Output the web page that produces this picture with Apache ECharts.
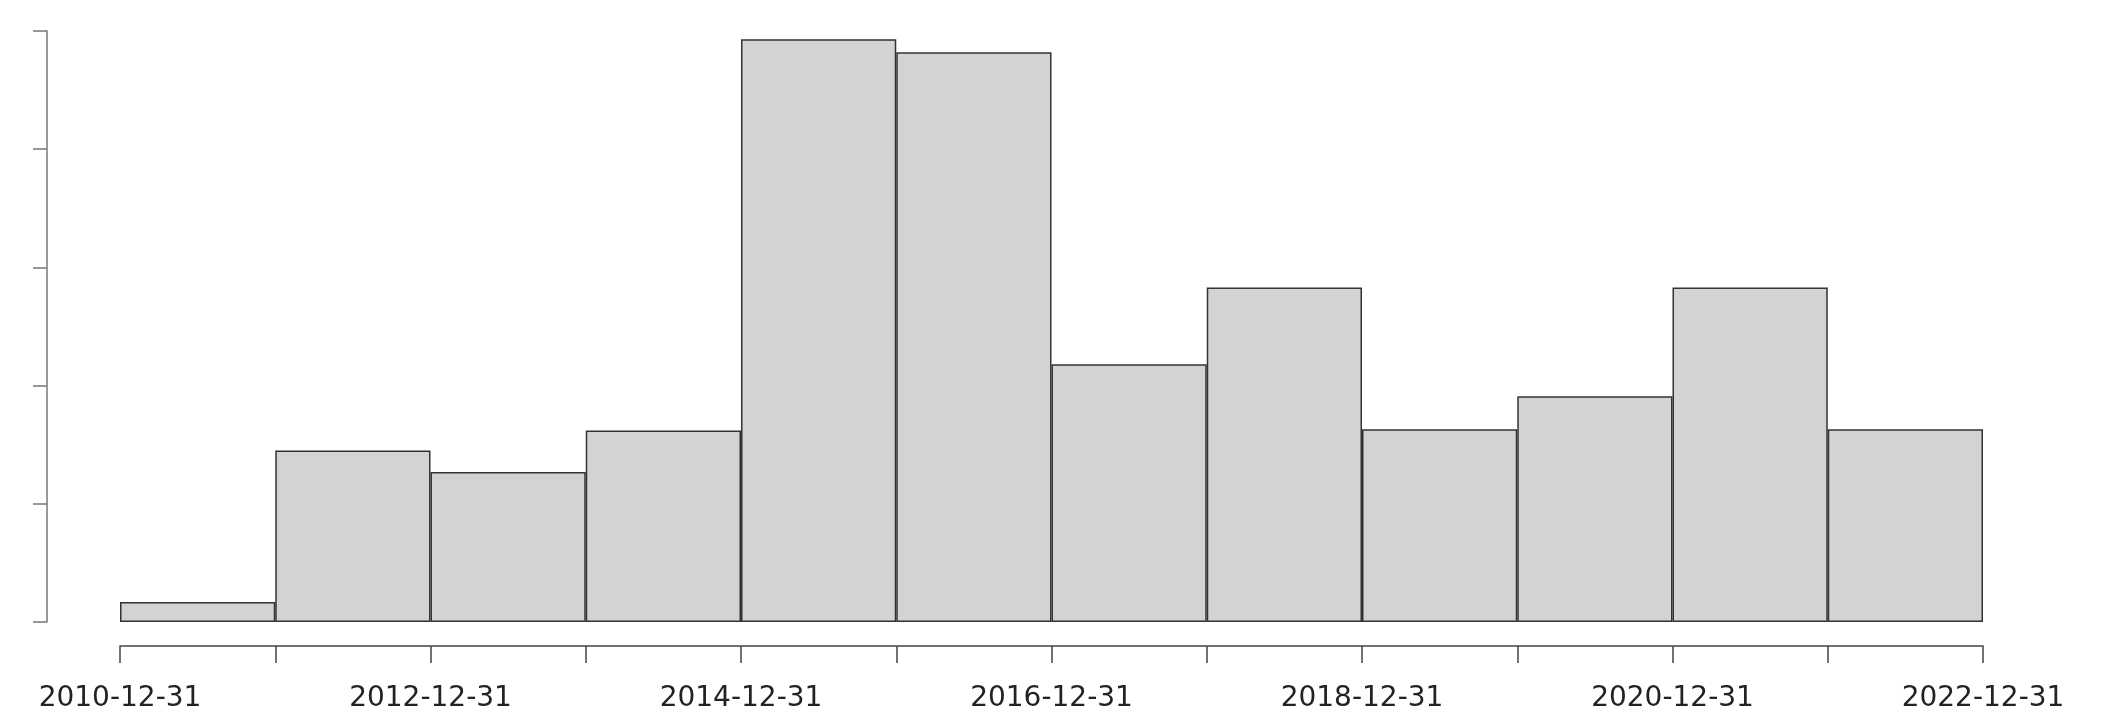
<!DOCTYPE html>
<html>
<head>
<meta charset="utf-8">
<script src="https://cdn.jsdelivr.net/npm/echarts@6/dist/echarts.min.js"></script>
<style>
  html, body { margin: 0; padding: 0; background: #fff; }
  #chart { width: 2112px; height: 713px; }
</style>
</head>
<body>
<div id="chart"></div>
<script>
// yearly bins (each ends on 12-31)
const bins = ['2011', '2012', '2013', '2014', '2015', '2016',
  '2017', '2018', '2019', '2020', '2021', '2022'];

// bar heights, read in units of the (unlabelled) y ticks
const heights = [0.17, 1.45, 1.27, 1.62, 4.93, 4.82, 2.18, 2.83, 1.63, 1.91, 2.83, 1.63];

// break labels along the bottom axis
const breakLabels = ['2010-12-31', '2011-12-31', '2012-12-31', '2013-12-31',
  '2014-12-31', '2015-12-31', '2016-12-31', '2017-12-31', '2018-12-31',
  '2019-12-31', '2020-12-31', '2021-12-31', '2022-12-31'];

const chart = echarts.init(document.getElementById('chart'));

chart.setOption({
  animation: false,
  backgroundColor: '#fff',
  grid: { left: 120, right: 129, top: 31, bottom: 86 },
  xAxis: [
    {
      type: 'category',
      data: bins,
      show: false
    },
    {
      type: 'value',
      min: 0,
      max: bins.length,
      interval: 1,
      position: 'bottom',
      offset: 24,
      splitLine: { show: false },
      axisLine: { show: true, onZero: false, lineStyle: { color: '#444', width: 1.5 } },
      axisTick: { show: true, length: 17, lineStyle: { color: '#444', width: 1.5 } },
      axisLabel: {
        margin: 39,
        fontFamily: 'DejaVu Sans',
        fontSize: 28,
        color: '#222',
        showMinLabel: true,
        showMaxLabel: true,
        formatter: function (v) {
          return v % 2 === 0 ? breakLabels[v] : '';
        }
      }
    }
  ],
  yAxis: {
    type: 'value',
    min: 0,
    max: 5,
    interval: 1,
    position: 'left',
    offset: 73,
    splitLine: { show: false },
    axisLine: { show: true, onZero: false, lineStyle: { color: '#777', width: 1.5 } },
    axisTick: { show: true, length: 14, lineStyle: { color: '#777', width: 1.5 } },
    axisLabel: { show: false }
  },
  series: [{
    type: 'bar',
    xAxisIndex: 0,
    data: heights,
    barWidth: '100%',
    itemStyle: { color: '#d3d3d3', borderColor: '#333', borderWidth: 1.5 }
  }]
});
</script>
</body>
</html>
